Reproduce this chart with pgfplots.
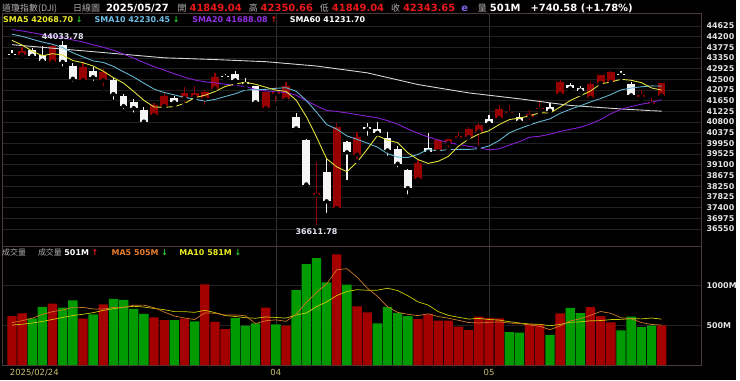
\documentclass[border=0pt]{standalone}
\usepackage{fontspec}
\setmainfont{DejaVu Sans}
\newfontfamily\cjk{Noto Sans CJK TC}
\usepackage{pgfplots}
\usepackage{pgfplotstable}
\pgfplotsset{compat=1.18}

\definecolor{framecol}{RGB}{75,58,58}
\definecolor{gridcol}{RGB}{34,34,34}
\definecolor{vgridcol}{RGB}{50,50,50}
\definecolor{candlered}{RGB}{150,0,0}
\definecolor{candlewhite}{RGB}{245,245,245}
\definecolor{volred}{RGB}{165,0,0}
\definecolor{volgreen}{RGB}{0,155,0}
\definecolor{sma5}{RGB}{225,225,60}
\definecolor{sma10}{RGB}{100,180,210}
\definecolor{sma20}{RGB}{135,30,210}
\definecolor{sma60}{RGB}{215,215,215}
\definecolor{vma5}{RGB}{205,120,40}
\definecolor{vma10}{RGB}{205,205,0}
\definecolor{hdrgray}{RGB}{175,175,175}
\definecolor{hdrred}{RGB}{235,25,25}
\definecolor{epurple}{RGB}{130,100,230}
\definecolor{datecol}{RGB}{200,190,110}
\definecolor{arrg}{RGB}{40,210,40}
\definecolor{arrr}{RGB}{235,30,30}
\definecolor{ticktext}{RGB}{228,228,228}
\definecolor{annot}{RGB}{225,225,240}
\definecolor{sma5t}{RGB}{235,235,40}
\definecolor{sma10t}{RGB}{110,190,230}
\definecolor{sma20t}{RGB}{150,50,230}
\definecolor{vma5t}{RGB}{235,125,45}
\definecolor{vma10t}{RGB}{235,235,30}

% x O H L C  (close > open: red candles)
\pgfplotstableread{
x O H L C
1 43480 43777 43300 43621
4 43200 43878 43005 43841
7 42459 43140 42392 43007
9 42459 42914 42130 42802
14 41080 41575 40951 41488
15 41434 42012 41400 41842
17 41737 42190 41487 41965
18 41800 42250 41653 41953
19 41737 42057 41407 41985
20 42132 42751 42130 42583
25 41344 42028 41150 42002
26 41934 42200 41513 41990
27 41697 42392 41650 42225
30 37890 39200 36612 37966
32 37377 40777 37271 40608
34 39504 40423 39240 40213
40 38520 39301 38334 39187
42 39635 40141 39390 40093
43 39965 40135 39700 40114
44 40150 40420 39965 40228
45 40200 40613 40036 40528
46 40423 40777 39768 40669
48 40950 41474 40940 41317
49 41150 41474 41013 41219
51 41013 41277 40777 41114
52 41300 41681 41151 41368
54 41907 42491 41900 42410
57 41761 42399 41750 42323
58 42352 42670 42257 42655
59 42392 42827 42300 42792
62 41800 42065 41698 41859
63 41508 41737 41344 41603
64 41849 42351 41849 42344
}\upT

% close < open: white candles
\pgfplotstableread{
x O H L C
0 43480 43680 43350 43461
2 43648 43751 43325 43433
3 43467 43837 43213 43240
5 43877 44034 42930 43191
6 43022 43132 42330 42521
8 42850 43000 42360 42579
10 42490 42550 41604 41912
11 41830 41910 41220 41433
12 41600 41700 41092 41351
13 41280 41400 40661 40814
16 41740 41850 41469 41581
21 42628 42696 42479 42588
22 42722 42821 42312 42455
23 42380 42550 42150 42300
24 42222 42240 41547 41584
28 40990 41170 40430 40546
29 40095 40120 38280 38315
31 38807 39386 37101 37646
33 39990 40050 38413 39594
35 40590 40765 40174 40525
36 40528 40816 40332 40369
37 40161 40423 39374 39669
38 39728 39860 38914 39142
39 38886 38937 37838 38170
41 39750 40383 39504 39607
47 40911 41080 40700 40753
50 41013 41170 40726 40829
53 41383 41540 41120 41249
55 42260 42368 42092 42140
56 42136 42222 41907 42051
60 42700 42820 42559 42677
61 42329 42400 41793 41860
}\dnT

\pgfplotstableread{
x s5 s10 s20
0 44050 44294 44477
1 43863 44209 44423
2 43624 44093 44352
3 43437 43980 44278
4 43519 43893 44226
5 43465 43758 44158
6 43245 43554 44063
7 43160 43392 43986
8 43028 43232 43871
9 42820 43170 43774
10 42564 43015 43654
11 42347 42796 43503
12 42015 42588 43340
13 41662 42345 43163
14 41400 42110 43001
15 41386 41975 42866
16 41415 41881 42718
17 41538 41777 42584
18 41766 41714 42473
19 41865 41632 42401
20 42013 41700 42357
21 42215 41815 42305
22 42313 41925 42257
23 42382 42074 42210
24 42302 42084 42097
25 42186 42100 42037
26 42066 42141 42011
27 42020 42167 41972
28 41669 42026 41870
29 41016 41659 41646
30 40208 41197 41448
31 39340 40703 41259
32 39016 40518 41222
33 38826 40248 41161
34 39205 40111 41097
35 39717 39963 41031
36 40262 39801 40971
37 40074 39545 40856
38 39984 39405 40715
39 39575 39390 40525
40 39307 39512 40355
41 39155 39708 40206
42 39240 39657 40088
43 39434 39709 39978
44 39846 39710 39910
45 40114 39711 39837
46 40326 39741 39771
47 40458 39849 39697
48 40699 40067 39736
49 40897 40372 39881
50 40957 40536 40024
51 41046 40686 40197
52 41169 40814 40235
53 41156 40927 40318
54 41394 41146 40428
55 41656 41307 40509
56 41844 41445 40593
57 42035 41602 40726
58 42316 41736 40901
59 42392 41893 41132
60 42500 42078 41307
61 42461 42153 41419
62 42369 42202 41508
63 42158 42237 41582
64 42069 42230 41688
}\smaT

\pgfplotstableread{
x s60
0 43877
5 43703
10 43529
15 43355
20 43285
25 43201
30 43028
35 42757
40 42291
45 41959
50 41724
55 41460
60 41320
64 41232
}\smaSixty

\pgfplotstableread{
x v
0 617
1 650
4 775
7 584
9 763
14 600
15 567
17 584
19 1017
20 546
21 455
25 725
27 496
32 1392
34 738
35 663
40 580
41 638
42 559
43 559
44 484
45 442
46 609
47 596
48 588
51 517
52 513
54 650
57 730
58 617
59 538
64 501
}\volUp

\pgfplotstableread{
x v
2 588
3 734
5 725
6 813
8 638
10 834
11 821
12 709
13 646
16 567
18 550
22 592
23 496
24 525
26 513
28 942
29 1271
30 1346
31 1042
33 1013
36 525
37 734
38 659
39 617
49 417
50 409
53 380
55 721
56 655
60 438
61 609
62 480
63 496
}\volDn

\pgfplotstableread{
x m5 m10
0 534 504
1 560 515
2 590 530
3 640 550
4 673 575
5 694 600
6 727 625
7 726 640
8 707 660
9 705 689
10 726 710
11 728 728
12 753 740
13 755 731
14 722 713
15 669 698
16 618 673
17 593 673
18 574 664
19 657 690
20 653 661
21 630 624
22 632 612
23 621 597
24 523 590
25 559 606
26 570 600
27 551 592
28 640 631
29 789 656
30 914 736
31 1019 795
32 1199 875
33 1213 927
34 1106 948
35 970 942
36 866 943
37 735 967
38 664 938
39 640 873
40 623 796
41 646 756
42 611 673
43 591 627
44 564 602
45 536 580
46 531 588
47 538 574
48 544 567
49 530 547
50 524 530
51 505 518
52 489 513
53 447 496
54 494 512
55 556 540
56 584 545
57 627 558
58 675 561
59 652 573
60 596 576
61 586 585
62 536 582
63 512 593
64 505 579
}\volMA

\begin{document}
\begin{tikzpicture}[x=1pt,y=1pt]
\fill[black] (0,0) rectangle (740,382);

% ---------------- price panel ----------------
\begin{axis}[
  at={(2pt,134pt)}, anchor=south west,
  width=703pt, height=235pt, scale only axis,
  xmin=-0.98, xmax=67.94, ymin=35838, ymax=45140,
  axis line style={framecol, line width=0.8pt},
  ytick={36550,36975,...,44625},
  scaled y ticks=false,
  yticklabel pos=right,
  yticklabel style={anchor=west, xshift=1.5pt, text=ticktext, font=\bfseries\fontsize{8}{9}\selectfont},
  /pgf/number format/fixed, /pgf/number format/precision=0,
  /pgf/number format/1000 sep={},
  /pgf/number format/assume math mode=true,
  xtick={26,47}, xticklabel={},
  ymajorgrids, xmajorgrids,
  y grid style={gridcol, line width=0.6pt},
  x grid style={vgridcol, line width=0.6pt},
  major tick length=0pt,
]
% wicks
\addplot[only marks, mark=none, error bars/.cd, y dir=plus, y explicit, error mark=none,
  error bar style={draw=candlered, line width=1.2pt}]
  table[x=x, y=L, y error expr=\thisrow{H}-\thisrow{L}] {\upT};
\addplot[only marks, mark=none, error bars/.cd, y dir=plus, y explicit, error mark=none,
  error bar style={draw=candlewhite, line width=1.2pt}]
  table[x=x, y=L, y error expr=\thisrow{H}-\thisrow{L}] {\dnT};
% bodies
\addplot[only marks, mark=none, error bars/.cd, y dir=plus, y explicit, error mark=none,
  error bar style={draw=candlered, line width=7.8pt}]
  table[x=x, y=O, y error expr={max(\thisrow{C}-\thisrow{O},50)}] {\upT};
\addplot[only marks, mark=none, error bars/.cd, y dir=plus, y explicit, error mark=none,
  error bar style={draw=candlewhite, line width=7.8pt}]
  table[x=x, y=C, y error expr={max(\thisrow{O}-\thisrow{C},50)}] {\dnT};
% moving averages
\addplot[sma60, line width=0.9pt] table[x=x, y=s60] {\smaSixty};
\addplot[sma20, line width=0.9pt] table[x=x, y=s20] {\smaT};
\addplot[sma10, line width=0.9pt] table[x=x, y=s10] {\smaT};
\addplot[sma5, line width=0.9pt] table[x=x, y=s5] {\smaT};
\node[anchor=south, inner sep=1pt, text=annot, font=\bfseries\fontsize{8}{9}\selectfont] at (axis cs:5,44034) {44033.78};
\node[anchor=north, inner sep=1.5pt, text=annot, font=\bfseries\fontsize{8}{9}\selectfont] at (axis cs:30,36612) {36611.78};
\end{axis}

% ---------------- volume panel ----------------
\begin{axis}[
  at={(2pt,15pt)}, anchor=south west,
  width=703pt, height=119pt, scale only axis,
  xmin=-0.98, xmax=67.94, ymin=0, ymax=1487.5,
  axis line style={framecol, line width=0.8pt},
  ytick={500,1000}, yticklabels={500M,1000M},
  yticklabel pos=right,
  yticklabel style={anchor=west, xshift=1.5pt, text=ticktext, font=\bfseries\fontsize{8}{9}\selectfont},
  xtick={26,47}, xticklabels={04,05},
  xticklabel style={text=datecol, font=\fontsize{8.5}{10}\selectfont},
  extra x ticks={0}, extra x tick labels={2025/02/24},
  extra x tick style={grid=none, xticklabel style={anchor=north west, xshift=-5.5pt}},
  ymajorgrids, xmajorgrids,
  y grid style={gridcol, line width=0.6pt},
  x grid style={vgridcol, line width=0.6pt},
  major tick length=0pt,
]
\addplot[ybar, bar width=9.4pt, bar shift=0pt, fill=volred, draw=none] table[x=x, y=v] {\volUp};
\addplot[ybar, bar width=9.4pt, bar shift=0pt, fill=volgreen, draw=none] table[x=x, y=v] {\volDn};
\addplot[vma10, line width=0.7pt] table[x=x, y=m10] {\volMA};
\addplot[vma5, line width=0.7pt] table[x=x, y=m5] {\volMA};
\end{axis}

% ---------------- header texts ----------------
\node[anchor=base west, inner sep=0pt, font=\fontsize{10}{12}\selectfont] at (2,370.5) {%
{\cjk\fontsize{9}{11}\selectfont\color{hdrgray}道瓊指數(DJI)}\hspace{16pt}%
{\cjk\fontsize{9}{11}\selectfont\color{hdrgray}日線圖}\hspace{6pt}%
{\bfseries\color{white}2025/05/27}\hspace{9pt}%
{\cjk\fontsize{9}{11}\selectfont\color{hdrgray}開}\hspace{3pt}%
{\bfseries\color{hdrred}41849.04}\hspace{7pt}%
{\cjk\fontsize{9}{11}\selectfont\color{hdrgray}高}\hspace{3pt}%
{\bfseries\color{hdrred}42350.66}\hspace{7pt}%
{\cjk\fontsize{9}{11}\selectfont\color{hdrgray}低}\hspace{3pt}%
{\bfseries\color{hdrred}41849.04}\hspace{7pt}%
{\cjk\fontsize{9}{11}\selectfont\color{hdrgray}收}\hspace{3pt}%
{\bfseries\color{hdrred}42343.65}\hspace{6pt}%
{\bfseries\color{epurple}e}\hspace{10pt}%
{\cjk\fontsize{9}{11}\selectfont\color{hdrgray}量}\hspace{3pt}%
{\bfseries\color{white}501M}\hspace{10pt}%
{\bfseries\color{white}+740.58 (+1.78\%)}%
};

\node[anchor=base west, inner sep=0pt, font=\bfseries\fontsize{8}{9.6}\selectfont] at (3,359) {\color{sma5t}SMA5 42068.70 \color{arrg}↓};
\node[anchor=base west, inner sep=0pt, font=\bfseries\fontsize{8}{9.6}\selectfont] at (95,359) {\color{sma10t}SMA10 42230.45 \color{arrg}↓};
\node[anchor=base west, inner sep=0pt, font=\bfseries\fontsize{8}{9.6}\selectfont] at (193,359) {\color{sma20t}SMA20 41688.08 \color{arrr}↑};
\node[anchor=base west, inner sep=0pt, font=\bfseries\fontsize{8}{9.6}\selectfont] at (291,359) {\color{white}SMA60 41231.70};

\node[anchor=base west, inner sep=0pt, font=\fontsize{8}{9.6}\selectfont] at (2,125) {{\cjk\color{hdrgray}成交量}};
\node[anchor=base west, inner sep=0pt, font=\fontsize{8}{9.6}\selectfont] at (38,125) {{\cjk\color{hdrgray}成交量} {\bfseries\color{white}501M} {\bfseries\color{arrr}↑}};
\node[anchor=base west, inner sep=0pt, font=\bfseries\fontsize{8}{9.6}\selectfont] at (112,125) {\color{vma5t}MA5 505M \color{arrg}↓};
\node[anchor=base west, inner sep=0pt, font=\bfseries\fontsize{8}{9.6}\selectfont] at (180,125) {\color{vma10t}MA10 581M \color{arrg}↓};
\end{tikzpicture}
\end{document}
